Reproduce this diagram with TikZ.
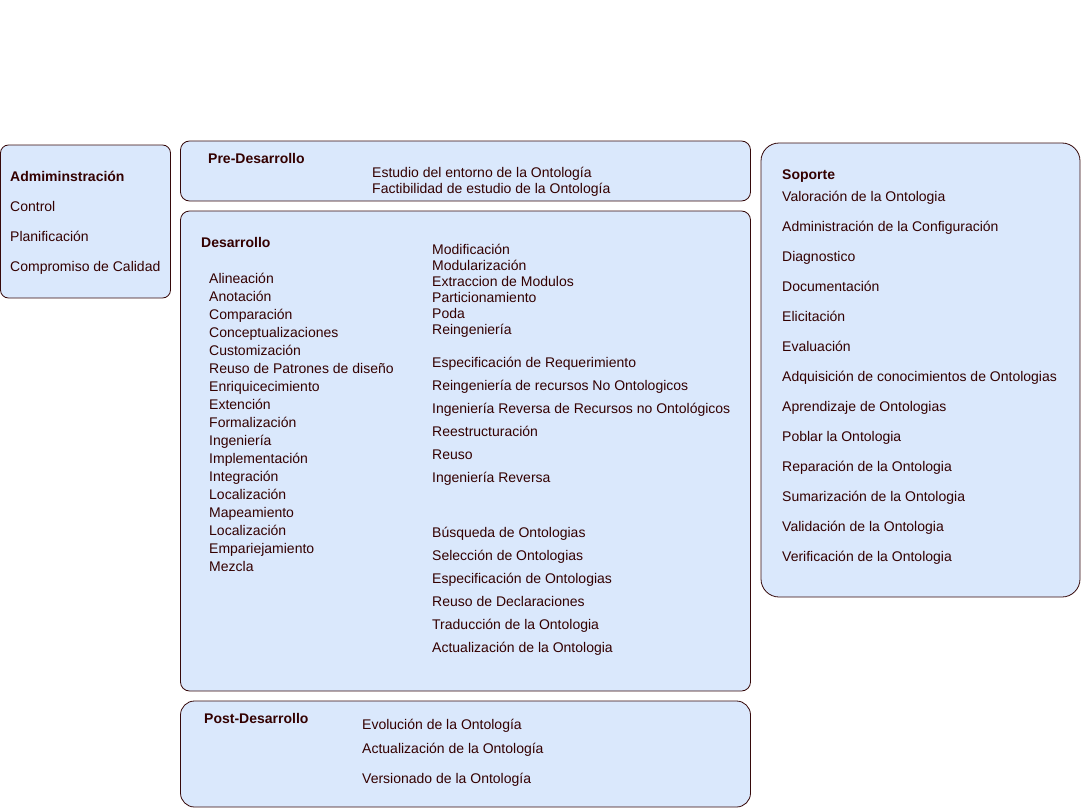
\documentclass[tikz,border=0pt]{standalone}
\usepackage{fontspec}
\setmainfont{Liberation Sans}
\definecolor{boxfill}{HTML}{DAE8FC}
\definecolor{boxline}{HTML}{36090A}
\definecolor{txt}{HTML}{330000}
\tikzset{
  box/.style={draw=boxline, fill=boxfill, line width=0.8pt, inner sep=0pt, outer sep=0pt, anchor=north west},
  lbl/.style={anchor=base west, inner sep=0pt, text=txt, font=\fontsize{14}{16}\selectfont},
  ttl/.style={lbl, font=\fontsize{14}{16}\selectfont\bfseries}
}
\begin{document}
\begin{tikzpicture}[x=1pt,y=-1pt]
\useasboundingbox (0,0) rectangle (1081,808);
% boxes
\node[box, rounded corners=8pt, minimum width=170pt, minimum height=153pt] (admin) at (0.5,145) {};
\node[box, rounded corners=9pt, minimum width=570pt, minimum height=60pt] (pre) at (180.5,141) {};
\node[box, rounded corners=9pt, minimum width=570pt, minimum height=480pt] (des) at (180.5,211) {};
\node[box, rounded corners=14pt, minimum width=570pt, minimum height=106pt] (post) at (180.5,701) {};
\node[box, rounded corners=18pt, minimum width=319pt, minimum height=454pt] (sop) at (761,143) {};
% Administracion
\node[ttl] (a0) at (10,181) {Admiminstración};
\node[lbl] (a1) at (10,211) {Control};
\node[lbl] (a2) at (10,241) {Planificación};
\node[lbl] (a3) at (10,271) {Compromiso de Calidad};
% Pre
\node[ttl] (p0) at (208,163) {Pre-Desarrollo};
\node[lbl] (p1) at (372,177) {Estudio del entorno de la Ontología};
\node[lbl] (p2) at (372,193) {Factibilidad de estudio de la Ontología};
% Desarrollo
\node[ttl] (d0) at (201,247) {Desarrollo};
\node[lbl] (l1) at (209,283) {Alineación};
\node[lbl] (l2) at (209,301) {Anotación};
\node[lbl] (l3) at (209,319) {Comparación};
\node[lbl] (l4) at (209,337) {Conceptualizaciones};
\node[lbl] (l5) at (209,355) {Customización};
\node[lbl] (l6) at (209,373) {Reuso de Patrones de diseño};
\node[lbl] (l7) at (209,391) {Enriquicecimiento};
\node[lbl] (l8) at (209,409) {Extención};
\node[lbl] (l9) at (209,427) {Formalización};
\node[lbl] (l10) at (209,445) {Ingeniería};
\node[lbl] (l11) at (209,463) {Implementación};
\node[lbl] (l12) at (209,481) {Integración};
\node[lbl] (l13) at (209,499) {Localización};
\node[lbl] (l14) at (209,517) {Mapeamiento};
\node[lbl] (l15) at (209,535) {Localización};
\node[lbl] (l16) at (209,553) {Empariejamiento};
\node[lbl] (l17) at (209,571) {Mezcla};
\node[lbl] (r1) at (432,254) {Modificación};
\node[lbl] (r2) at (432,270) {Modularización};
\node[lbl] (r3) at (432,286) {Extraccion de Modulos};
\node[lbl] (r4) at (432,302) {Particionamiento};
\node[lbl] (r5) at (432,318) {Poda};
\node[lbl] (r6) at (432,334) {Reingeniería};
\node[lbl] (r7) at (432,367) {Especificación de Requerimiento};
\node[lbl] (r8) at (432,390) {Reingeniería de recursos No Ontologicos};
\node[lbl] (r9) at (432,413) {Ingeniería Reversa de Recursos no Ontológicos};
\node[lbl] (r10) at (432,436) {Reestructuración};
\node[lbl] (r11) at (432,459) {Reuso};
\node[lbl] (r12) at (432,482) {Ingeniería Reversa};
\node[lbl] (r13) at (432,537) {Búsqueda de Ontologias};
\node[lbl] (r14) at (432,560) {Selección de Ontologias};
\node[lbl] (r15) at (432,583) {Especificación de Ontologias};
\node[lbl] (r16) at (432,606) {Reuso de Declaraciones};
\node[lbl] (r17) at (432,629) {Traducción de la Ontologia};
\node[lbl] (r18) at (432,652) {Actualización de la Ontologia};
% Post
\node[ttl] (q0) at (204,723) {Post-Desarrollo};
\node[lbl] (q1) at (362,729) {Evolución de la Ontología};
\node[lbl] (q2) at (362,753) {Actualización de la Ontología};
\node[lbl] (q3) at (362,783) {Versionado de la Ontología};
% Soporte
\node[ttl] (s0) at (782,179) {Soporte};
\node[lbl] (s1) at (782,201) {Valoración de la Ontologia};
\node[lbl] (s2) at (782,231) {Administración de la Configuración};
\node[lbl] (s3) at (782,261) {Diagnostico};
\node[lbl] (s4) at (782,291) {Documentación};
\node[lbl] (s5) at (782,321) {Elicitación};
\node[lbl] (s6) at (782,351) {Evaluación};
\node[lbl] (s7) at (782,381) {Adquisición de conocimientos de Ontologias};
\node[lbl] (s8) at (782,411) {Aprendizaje de Ontologias};
\node[lbl] (s9) at (782,441) {Poblar la Ontologia};
\node[lbl] (s10) at (782,471) {Reparación de la Ontologia};
\node[lbl] (s11) at (782,501) {Sumarización de la Ontologia};
\node[lbl] (s12) at (782,531) {Validación de la Ontologia};
\node[lbl] (s13) at (782,561) {Verificación de la Ontologia};
\end{tikzpicture}
\end{document}
